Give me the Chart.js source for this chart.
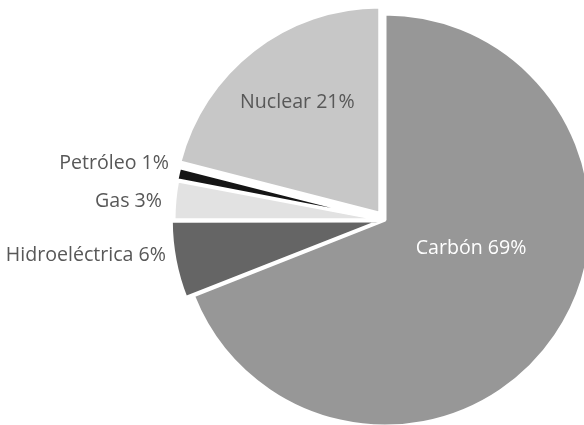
<!DOCTYPE html>
<html>
<head>
<meta charset="utf-8">
<script src="https://cdn.jsdelivr.net/npm/chart.js@4.4.1/dist/chart.umd.min.js"></script>
<style>
  html, body { margin: 0; padding: 0; background: #fff; overflow: hidden; width: 584px; height: 425px; }
  #wrap { position: absolute; left: 0; top: 0; width: 770px; height: 440px; }
</style>
</head>
<body>
<div id="wrap"><canvas id="pie" width="770" height="440"></canvas></div>
<script>
// datos de generación eléctrica (%)
const categories = ["Carbón", "Hidroeléctrica", "Gas", "Petróleo", "Nuclear"];
const shares = [69, 6, 3, 1, 21];
const sliceColors = ["#979797", "#656565", "#e2e2e2", "#151515", "#c7c7c7"];
// Chart.js v4 divide el offset entre 4 al dibujar
const sliceOffsets = [0, 19, 11, 12, 34];

// dónde va cada etiqueta: dentro del sector o a la izquierda del círculo
const labelPlacement = [
    { mode: "inside", frac: 0.44, turn: -16, color: "#ffffff" },
    { mode: "left", dx: -13, dy: -3, color: "#585858" },
    { mode: "left", dx: -17, dy: 1, color: "#585858" },
    { mode: "left", dx: -10, dy: -12, color: "#585858" },
    { mode: "inside", frac: 0.71, turn: 1, color: "#585858" }
];

const labelPlugin = {
    id: "sliceLabels",
    afterDatasetsDraw(chart) {
        const ctx = chart.ctx;
        const meta = chart.getDatasetMeta(0);
        ctx.save();
        ctx.font = "19.6px 'Open Sans'";
        ctx.textBaseline = "middle";
        meta.data.forEach((arc, i) => {
            const p = arc.getProps(["x", "y", "startAngle", "endAngle", "outerRadius"], true);
            const mid = (p.startAngle + p.endAngle) / 2;
            const place = labelPlacement[i];
            const text = categories[i] + " " + shares[i] + "%";
            ctx.fillStyle = place.color;
            if (place.mode === "inside") {
                const a = mid + place.turn * Math.PI / 180;
                const r = p.outerRadius * place.frac;
                ctx.textAlign = "center";
                ctx.fillText(text, p.x + Math.cos(a) * r, p.y + Math.sin(a) * r);
            } else {
                ctx.textAlign = "right";
                ctx.fillText(text, p.x - p.outerRadius + place.dx, p.y + Math.sin(mid) * p.outerRadius + place.dy);
            }
        });
        ctx.restore();
    }
};

new Chart(document.getElementById("pie"), {
    type: "pie",
    data: {
        labels: categories,
        datasets: [{
            data: shares,
            backgroundColor: sliceColors,
            borderColor: "#ffffff",
            borderWidth: 3,
            offset: sliceOffsets
        }]
    },
    options: {
        responsive: false,
        animation: false,
        radius: 206,
        layout: { padding: 0 },
        plugins: {
            legend: { display: false },
            tooltip: { enabled: false }
        }
    },
    plugins: [labelPlugin]
});
</script>
</body>
</html>
